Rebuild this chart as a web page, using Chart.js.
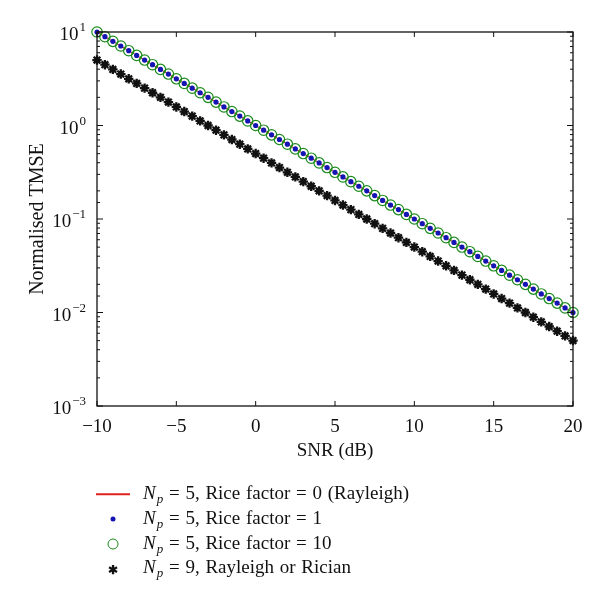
<!DOCTYPE html>
<html>
<head>
<meta charset="utf-8">
<script src="https://cdn.jsdelivr.net/npm/chart.js@4.4.1/dist/chart.umd.min.js"></script>
<style>
  html, body { margin: 0; padding: 0; background: #fff; }
  #wrap { position: relative; width: 600px; height: 609px; }
  #legend {
    position: absolute; left: 96px; top: 482px;
    font-family: "Liberation Serif", "DejaVu Serif", serif; font-size: 19px; color: #111;
    word-spacing: 1px;
  }
  .row { height: 24.8px; display: flex; align-items: center; white-space: nowrap; }
  .mark { width: 34px; height: 14px; position: relative; margin-right: 13px; }
  .mark span { position: absolute; left: 50%; top: 50%; transform: translate(-50%, -50%); }
  .txt sub { font-size: 13px; vertical-align: -4px; margin-left: 1px; }
</style>
</head>
<body>
<div id="wrap">
  <canvas id="myChart" width="600" height="609"></canvas>
  <div id="legend">
    <div class="row"><div class="mark"><span style="width:34px;height:1.5px;background:#e0201c"></span></div>
      <div class="txt"><i>N</i><sub><i>p</i></sub> = 5, Rice factor = 0 (Rayleigh)</div></div>
    <div class="row"><div class="mark"><span style="width:5px;height:5px;border-radius:50%;background:#1414b4"></span></div>
      <div class="txt"><i>N</i><sub><i>p</i></sub> = 5, Rice factor = 1</div></div>
    <div class="row"><div class="mark"><span style="width:9px;height:9px;border-radius:50%;border:1.3px solid #1b8a1b"></span></div>
      <div class="txt"><i>N</i><sub><i>p</i></sub> = 5, Rice factor = 10</div></div>
    <div class="row"><div class="mark"><span style="font-size:12px;font-weight:bold;line-height:10px;margin-top:1px">✱</span></div>
      <div class="txt"><i>N</i><sub><i>p</i></sub> = 9, Rayleigh or Rician</div></div>
  </div>
</div>
<script>
// data
const snr = [-10, -9.5, -9, -8.5, -8, -7.5, -7, -6.5, -6, -5.5,
    -5, -4.5, -4, -3.5, -3, -2.5, -2, -1.5, -1, -0.5,
    0, 0.5, 1, 1.5, 2, 2.5, 3, 3.5, 4, 4.5,
    5, 5.5, 6, 6.5, 7, 7.5, 8, 8.5, 9, 9.5,
    10, 10.5, 11, 11.5, 12, 12.5, 13, 13.5, 14, 14.5,
    15, 15.5, 16, 16.5, 17, 17.5, 18, 18.5, 19, 19.5,
    20];

// Np = 5 (the three rice factors overlap)
const tmseNp5 = [10.0, 8.91, 7.94, 7.08, 6.31, 5.62, 5.01, 4.47, 3.98, 3.55,
    3.16, 2.82, 2.51, 2.24, 2.00, 1.78, 1.58, 1.41, 1.26, 1.12,
    1.00, 0.891, 0.794, 0.708, 0.631, 0.562, 0.501, 0.447, 0.398, 0.355,
    0.316, 0.282, 0.251, 0.224, 0.200, 0.178, 0.158, 0.141, 0.126, 0.112,
    0.100, 0.0891, 0.0794, 0.0708, 0.0631, 0.0562, 0.0501, 0.0447, 0.0398, 0.0355,
    0.0316, 0.0282, 0.0251, 0.0224, 0.0200, 0.0178, 0.0158, 0.0141, 0.0126, 0.0112,
    0.0100];

// Np = 9
const tmseNp9 = [5.01, 4.47, 3.98, 3.55, 3.16, 2.82, 2.51, 2.24, 2.00, 1.78,
    1.58, 1.41, 1.26, 1.12, 1.00, 0.891, 0.794, 0.708, 0.631, 0.562,
    0.501, 0.447, 0.398, 0.355, 0.316, 0.282, 0.251, 0.224, 0.200, 0.178,
    0.158, 0.141, 0.126, 0.112, 0.100, 0.0891, 0.0794, 0.0708, 0.0631, 0.0562,
    0.0501, 0.0447, 0.0398, 0.0355, 0.0316, 0.0282, 0.0251, 0.0224, 0.0200, 0.0178,
    0.0158, 0.0141, 0.0126, 0.0112, 0.0100, 0.00891, 0.00794, 0.00708, 0.00631, 0.00562,
    0.00501];

const xTicks = [-10, -5, 0, 5, 10, 15, 20];
const yDecades = [1, 0, -1, -2, -3];   // y labels are 10^n

const pts = (ys) => snr.map((x, i) => ({x: x, y: ys[i]}));
const serif = '"Liberation Serif", "DejaVu Serif", serif';

function decade(v) {
    const e = Math.log10(v);
    return Math.abs(e - Math.round(e)) < 1e-6 ? Math.round(e) : null;
}

// box around plot + inward ticks like matlab, and 10^n labels with real superscripts
const boxTicks = {
    id: 'boxTicks',
    afterDraw(chart) {
        const {ctx, chartArea: a, scales} = chart;
        ctx.save();
        ctx.strokeStyle = '#111';
        ctx.lineWidth = 1.3;
        ctx.strokeRect(a.left, a.top, a.right - a.left, a.bottom - a.top);
        ctx.lineWidth = 1;
        ctx.beginPath();
        scales.x.ticks.forEach(t => {
            const px = scales.x.getPixelForValue(t.value);
            ctx.moveTo(px, a.bottom); ctx.lineTo(px, a.bottom - 5);
            ctx.moveTo(px, a.top); ctx.lineTo(px, a.top + 5);
        });
        scales.y.ticks.forEach(t => {
            const py = scales.y.getPixelForValue(t.value);
            const len = decade(t.value) !== null ? 6 : 3;
            ctx.moveTo(a.left, py); ctx.lineTo(a.left + len, py);
            ctx.moveTo(a.right, py); ctx.lineTo(a.right - len, py);
        });
        ctx.stroke();

        ctx.fillStyle = '#111';
        ctx.textBaseline = 'alphabetic';
        yDecades.forEach(n => {
            const py = scales.y.getPixelForValue(Math.pow(10, n));
            const sup = n < 0 ? '\u2212' + Math.abs(n) : String(n);
            ctx.font = '13px ' + serif;
            const wSup = ctx.measureText(sup).width;
            const right = a.left - 11;
            ctx.textAlign = 'right';
            ctx.fillText(sup, right, py - 1);
            ctx.font = '19px ' + serif;
            ctx.fillText('10', right - wSup - 1, py + 8);
        });
        ctx.restore();
    }
};

const ctx = document.getElementById('myChart');
let myChart = new Chart(ctx, {
    type: 'scatter',
    data: {
        datasets: [
            {   // Rice factor = 1
                data: pts(tmseNp5),
                showLine: false,
                clip: false,
                pointRadius: 2.6,
                pointBorderWidth: 0,
                pointBackgroundColor: '#1414b4'
            },
            {   // Rice factor = 10
                data: pts(tmseNp5),
                showLine: false,
                clip: false,
                pointRadius: 5.2,
                pointBorderWidth: 1.2,
                pointBorderColor: '#1b8a1b',
                pointBackgroundColor: 'rgba(0,0,0,0)'
            },
            {   // Rayleigh
                data: pts(tmseNp5),
                showLine: true,
                clip: false,
                borderColor: '#e0201c',
                borderWidth: 1,
                pointRadius: 0
            },
            {   // Np = 9
                data: pts(tmseNp9),
                showLine: false,
                clip: false,
                pointStyle: 'star',
                pointRadius: 4.7,
                pointBorderWidth: 2.3,
                pointBorderColor: '#111'
            }
        ]
    },
    options: {
        responsive: false,
        animation: false,
        layout: {padding: {left: 22, right: 27, top: 32, bottom: 143}},
        plugins: {legend: {display: false}, tooltip: {enabled: false}},
        scales: {
            x: {
                type: 'linear',
                min: -10, max: 20,
                afterBuildTicks: (s) => { s.ticks = xTicks.map(v => ({value: v})); },
                afterFit: (s) => { s.height = 60; },
                grid: {display: false},
                border: {display: false},
                ticks: {
                    color: '#111', padding: 2,
                    font: {family: serif, size: 19},
                    callback: (v) => (v < 0 ? '\u2212' + Math.abs(v) : '' + v)
                },
                title: {display: true, text: 'SNR (dB)', color: '#111', padding: {top: 0},
                        font: {family: serif, size: 19}}
            },
            y: {
                type: 'logarithmic',
                min: 0.001, max: 10,
                afterFit: (s) => { s.width = 75; },
                grid: {display: false},
                border: {display: false},
                ticks: {
                    autoSkip: false,
                    font: {family: serif, size: 19},
                    color: 'rgba(0,0,0,0)',   // drawn by boxTicks with superscripts
                    callback: (v) => (decade(v) === null ? '' : '10')
                },
                title: {display: true, text: 'Normalised TMSE', color: '#111', padding: {bottom: 0},
                        font: {family: serif, size: 20}}
            }
        }
    },
    plugins: [boxTicks]
});
</script>
</body>
</html>
